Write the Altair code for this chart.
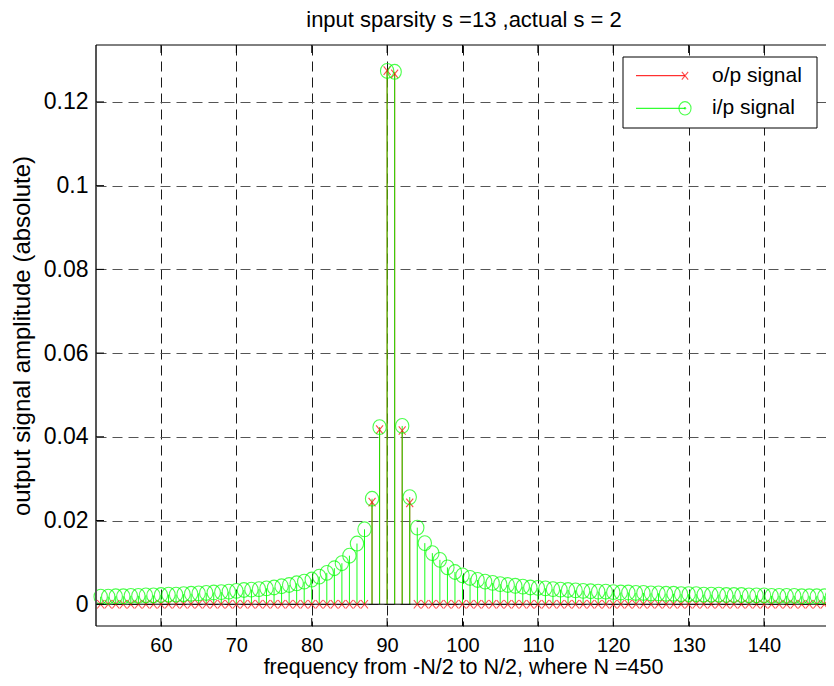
import altair as alt
import pandas as pd

# ---- data ----
freqs = list(range(52, 150))
ip_signal = [
    0.0018, 0.0018, 0.0019, 0.0019, 0.0020, 0.0020, 0.0021, 0.0021,  # 52-59
    0.0022, 0.0023, 0.0023, 0.0024, 0.0025, 0.0026, 0.0027, 0.0028, 0.0029, 0.0030,  # 60-69
    0.0032, 0.0034, 0.0035, 0.0036, 0.0038, 0.0040, 0.0043, 0.0046, 0.0050, 0.0054,  # 70-79
    0.0059, 0.0066, 0.0075, 0.0086, 0.0098, 0.0116, 0.0145, 0.0179, 0.0252, 0.0423,  # 80-89
    0.1274, 0.1272, 0.0426, 0.0256, 0.0183, 0.0146, 0.0122, 0.0106, 0.0088, 0.0077,  # 90-99
    0.0069, 0.0063, 0.0058, 0.0054, 0.0051, 0.0048, 0.0046, 0.0044, 0.0042, 0.0040,  # 100-109
    0.0039, 0.0038, 0.0036, 0.0035, 0.0034, 0.0033, 0.0032, 0.0031, 0.0030, 0.0030,  # 110-119
    0.0029, 0.0028, 0.0028, 0.0027, 0.0027, 0.0026, 0.0026, 0.0025, 0.0025, 0.0024,  # 120-129
    0.0024, 0.0024, 0.0023, 0.0023, 0.0023, 0.0022, 0.0022, 0.0022, 0.0021, 0.0021,  # 130-139
    0.0021, 0.0020, 0.0020, 0.0020, 0.0020, 0.0019, 0.0019, 0.0019, 0.0019, 0.0018,  # 140-149
]
op_nonzero_freqs = [88, 89, 90, 91, 92, 93]
op_nonzero_vals = [0.0244, 0.0417, 0.1275, 0.1267, 0.0415, 0.0242]
op_signal = [op_nonzero_vals[op_nonzero_freqs.index(f)] if f in op_nonzero_freqs else 0.0 for f in freqs]

x_ticks = [60, 70, 80, 90, 100, 110, 120, 130, 140]
y_ticks = [0, 0.02, 0.04, 0.06, 0.08, 0.1, 0.12]

title_text = "input sparsity s =13 ,actual s = 2"
x_title = "frequency from -N/2 to N/2, where N =450"
y_title = "output signal amplitude (absolute)"
legend_labels = ["o/p signal", "i/p signal"]

FONT = "Liberation Sans"
W_FULL = 737          # full plot-area width (right edge falls at the page edge)
W, H = 730, 581       # drawn view (svg must fit the page)
GREEN = "#00ff00"
RED = "#ff0000"

df = pd.DataFrame({"f": freqs, "ip": ip_signal, "op": op_signal})
xt = pd.DataFrame({"t": x_ticks})
yt = pd.DataFrame({"t": y_ticks})
one = pd.DataFrame({"k": [0]})

xs = alt.Scale(domain=[51.38, 149.15], range=[0, W_FULL], nice=False, zero=False)
ys = alt.Scale(domain=[-0.0052, 0.1336], nice=False, zero=False)

X = alt.X("f:Q", scale=xs,
          axis=alt.Axis(values=x_ticks, title=x_title, grid=True, ticks=False, domain=False,
                        labelPadding=9, labelFlush=False, labelFontSize=20,
                        gridColor="#1a1a1a",
                        titleX=367, titleY=47.5, titleBaseline="alphabetic", titleFontSize=21.5))
Y = alt.Y("ip:Q", scale=ys,
          axis=alt.Axis(values=y_ticks, title=y_title, grid=True, ticks=False, domain=False,
                        format=".2~f", labelPadding=8, labelFontSize=23,
                        gridColor="#555555",
                        titleX=-74, titleY=H / 2, titleAngle=270, titleBaseline="middle",
                        titleAlign="center", titleFontSize=24))

base = alt.Chart(df)

ELLIPSE = "M0,-1A0.9,1 0 1,1 0,1A0.9,1 0 1,1 0,-1Z"
XPATH = "M-0.82,-1L0.82,1M-0.82,1L0.82,-1"

red_stems = base.mark_rule(color=RED, strokeWidth=1).encode(
    x=X, y=alt.Y("op:Q", scale=ys), y2=alt.datum(0))
green_stems = base.mark_rule(color=GREEN, strokeWidth=1, opacity=0.9).encode(
    x=alt.X("f:Q", scale=xs), y=Y, y2=alt.datum(0))
baseline = alt.Chart(one).mark_rule(color="black", strokeWidth=1).encode(
    y=alt.Y("k:Q", scale=ys), x=alt.value(0), x2=alt.value(W_FULL))
red_marks = base.mark_point(shape=XPATH, color=RED, size=72, strokeWidth=1.1, filled=False).encode(
    x=alt.X("f:Q", scale=xs), y=alt.Y("op:Q", scale=ys))
green_marks = base.mark_point(shape=ELLIPSE, color=GREEN, size=219, strokeWidth=1.1, filled=False).encode(
    x=alt.X("f:Q", scale=xs), y=alt.Y("ip:Q", scale=ys))

# axes box (left / top / bottom) and inner ticks
box_left = alt.Chart(one).mark_rule(color="#555555", strokeWidth=2).encode(
    x=alt.value(0), y=alt.value(0), y2=alt.value(H))
box_top = alt.Chart(one).mark_rule(color="black", strokeWidth=1).encode(
    x=alt.value(0), x2=alt.value(W_FULL), y=alt.value(0))
box_bottom = alt.Chart(one).mark_rule(color="black", strokeWidth=1).encode(
    x=alt.value(0), x2=alt.value(W_FULL), y=alt.value(H))

TL = 8
xt_bottom = alt.Chart(xt).mark_rule(color="black").encode(
    x=alt.X("t:Q", scale=xs), y=alt.value(H), y2=alt.value(H - TL))
xt_top = alt.Chart(xt).mark_rule(color="black").encode(
    x=alt.X("t:Q", scale=xs), y=alt.value(0), y2=alt.value(TL))
yt_left = alt.Chart(yt).mark_rule(color="black").encode(
    y=alt.Y("t:Q", scale=ys), x=alt.value(0), x2=alt.value(TL))

# legend (decoration)
LX0, LX1, LY0, LY1 = 527, 721, 12, 83
ROW1, ROW2 = 30.7, 63.3
leg_box = alt.Chart(one).mark_rect(fill="white", stroke="black", strokeWidth=1).encode(
    x=alt.value(LX0), x2=alt.value(LX1), y=alt.value(LY0), y2=alt.value(LY1))
leg_l1 = alt.Chart(one).mark_rule(color=RED, strokeWidth=1).encode(
    x=alt.value(540), x2=alt.value(589), y=alt.value(ROW1))
leg_l2 = alt.Chart(one).mark_rule(color=GREEN, strokeWidth=1).encode(
    x=alt.value(540), x2=alt.value(589), y=alt.value(ROW2))
leg_m1 = alt.Chart(one).mark_point(shape=XPATH, color=RED, size=60, strokeWidth=1.1).encode(
    x=alt.value(589), y=alt.value(ROW1))
leg_m2 = alt.Chart(one).mark_point(shape=ELLIPSE, color=GREEN, size=180, strokeWidth=1.1).encode(
    x=alt.value(589), y=alt.value(ROW2))
leg_dot = alt.Chart(one).mark_point(shape="circle", color=GREEN, size=6, filled=True).encode(
    x=alt.value(589), y=alt.value(ROW2))
leg_t1 = alt.Chart(one).mark_text(align="left", baseline="middle", font=FONT, fontSize=21,
                                  color="black").encode(
    x=alt.value(616), y=alt.value(ROW1), text=alt.value(legend_labels[0]))
leg_t2 = alt.Chart(one).mark_text(align="left", baseline="middle", font=FONT, fontSize=21,
                                  color="black").encode(
    x=alt.value(616), y=alt.value(ROW2), text=alt.value(legend_labels[1]))

chart = alt.layer(
    red_stems, green_stems, baseline, red_marks, green_marks,
    box_left, box_top, box_bottom, xt_bottom, xt_top, yt_left,
    leg_box, leg_l1, leg_l2, leg_m1, leg_m2, leg_dot, leg_t1, leg_t2,
).properties(
    width=W, height=H,
    title=alt.TitleParams(title_text, font=FONT, fontSize=22, fontWeight="normal", color="black",
                          offset=12, anchor="middle", dx=3),
    autosize=alt.AutoSizeParams(type="none"),
    padding={"left": 88, "top": 37, "right": 0, "bottom": 52},
).configure_view(
    stroke=None
).configure_axis(
    labelFont=FONT, labelColor="black",
    titleFont=FONT, titleColor="black", titleFontWeight="normal",
    gridDash=[10, 6], gridWidth=1, gridOpacity=1,
)

chart.save("out.html", embed_options={"renderer": "svg", "actions": False})
